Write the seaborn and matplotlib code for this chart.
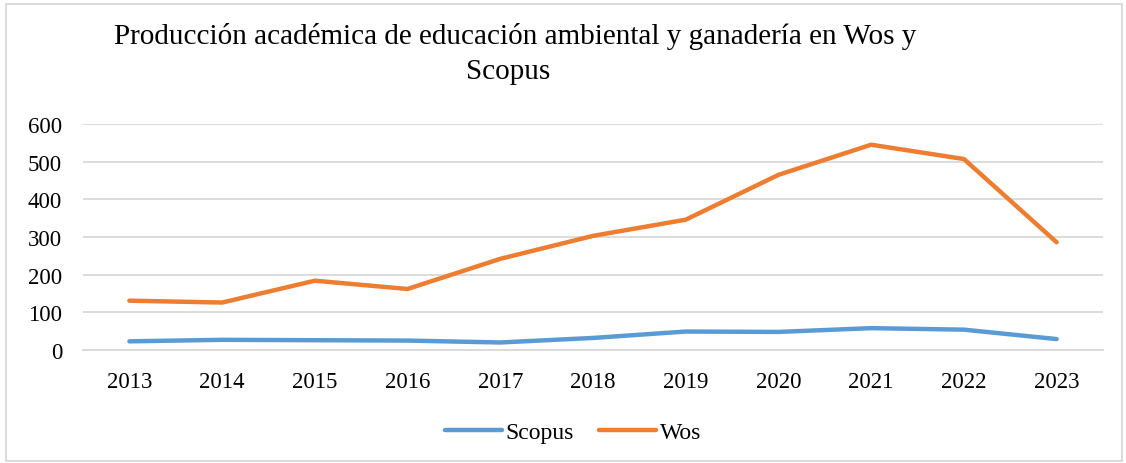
import matplotlib.pyplot as plt
import matplotlib.patches as patches
import pandas as pd
import seaborn as sns

# Data
years = ["2013", "2014", "2015", "2016", "2017", "2018", "2019", "2020", "2021", "2022", "2023"]
scopus = [23, 27, 26, 25, 20, 32, 49, 48, 58, 54, 29]
wos = [131, 126, 184, 162, 242, 303, 346, 465, 545, 507, 286]

df = pd.DataFrame({
    "year": years * 2,
    "value": scopus + wos,
    "source": ["Scopus"] * len(years) + ["Wos"] * len(years),
})

sns.set_style("white")
plt.rcParams['font.family'] = ['Liberation Serif', 'DejaVu Serif']
plt.rcParams['text.color'] = 'black'

fig = plt.figure(figsize=(11.26, 4.64), dpi=100)
ax = fig.add_axes([83 / 1126, 1 - 351 / 464, 1020 / 1126, 226 / 464])

sns.lineplot(data=df, x="year", y="value", hue="source",
             palette={"Scopus": "#5B9BD5", "Wos": "#ED7D31"},
             linewidth=3.2, solid_capstyle="round", ax=ax, legend=False, sort=False)

ax.set_xlim(-0.5, len(years) - 0.5)
ax.set_ylim(0, 600)
ax.set_yticks(range(0, 601, 100))
ax.grid(axis="y", color="#D9D9D9", linewidth=1.3)
ax.grid(axis="x", visible=False)
ax.set_axisbelow(True)
for side in ["top", "right", "left"]:
    ax.spines[side].set_visible(False)
ax.spines["bottom"].set_color("#D9D9D9")
ax.spines["bottom"].set_linewidth(1.3)
ax.tick_params(axis="both", length=0, labelsize=16.5, colors="black")
ax.tick_params(axis="x", pad=15)
ax.tick_params(axis="y", pad=15)
ax.set_xlabel("")
ax.set_ylabel("")

# two-line title, as wrapped in the original
fig.text(515 / 1126, 1 - 37 / 464, "Producción académica de educación ambiental y ganadería en Wos y",
         ha="center", va="center", fontsize=21, color="black")
fig.text(508 / 1126, 1 - 72 / 464, "Scopus", ha="center", va="center", fontsize=21, color="black")

# legend at bottom
handles = [plt.Line2D([], [], color="#5B9BD5", linewidth=3.2, solid_capstyle="round"),
           plt.Line2D([], [], color="#ED7D31", linewidth=3.2, solid_capstyle="round")]
fig.legend(handles, ["Scopus", "Wos"], loc="center", bbox_to_anchor=(573 / 1126, 1 - 433 / 464),
           ncol=2, frameon=False, fontsize=17, handlelength=2.4, handletextpad=0.15,
           columnspacing=1.1)

# outer chart border
fig.patches.append(patches.Rectangle((6 / 1126, 2 / 464), 1116 / 1126, 457 / 464,
                                     transform=fig.transFigure, fill=False,
                                     edgecolor="#D9D9D9", linewidth=1.3))

fig.savefig("out.png", dpi=100)
